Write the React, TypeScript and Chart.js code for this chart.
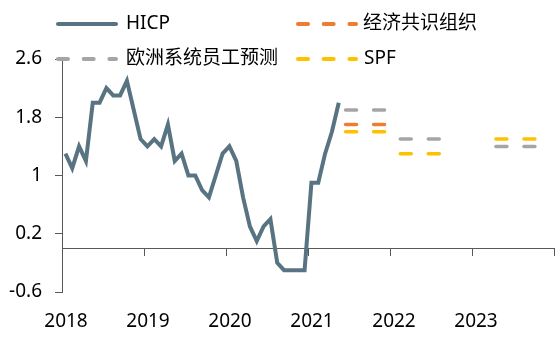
import React, { useEffect, useRef } from "react";
import { Chart, registerables } from "chart.js";

Chart.register(...registerables);

// ---- Data ----
// HICP year-on-year (%), monthly from 2018-01 (x = month index, 0 = Jan 2018)
const hicp = [
  1.3, 1.1, 1.4, 1.2, 2.0, 2.0, 2.2, 2.1, 2.1, 2.3, 1.9, 1.5, // 2018
  1.4, 1.5, 1.4, 1.7, 1.2, 1.3, 1.0, 1.0, 0.8, 0.7, 1.0, 1.3, // 2019
  1.4, 1.2, 0.7, 0.3, 0.1, 0.3, 0.4, -0.2, -0.3, -0.3, -0.3, -0.3, // 2020
  0.9, 0.9, 1.3, 1.6, 2.0, // 2021
];

// Forecast years and the month span (month index) each forecast dash covers
const forecastYears = ["2021", "2022", "2023"];
const forecastStart = [41, 49, 63];
const forecastEnd = [47, 55, 69];
const ecbForecast = [1.9, 1.5, 1.4];
const oecdForecast = [1.7, null, null];
const spfForecast = [1.6, 1.3, 1.5];

// Axis ticks
const yTicks = [-0.6, 0.2, 1, 1.8, 2.6];
const yearBoundaries = [-0.5, 11.5, 23.5, 35.5, 47.5, 59.5, 71.5];
const yearLabels = ["2018", "2019", "2020", "2021", "2022", "2023", ""];

const seriesLabels = ["HICP", "经济共识组织", "欧洲系统员工预测", "SPF"];

// ---- Styles ----
const FONT = "'Noto Sans', 'Noto Sans CJK SC', sans-serif";
const COLORS = {
  hicp: "#587482",
  oecd: "#ED7D31",
  ecb: "#A5A5A5",
  spf: "#FFC000",
  axis: "#595959",
  text: "#000000",
};

function forecastPoints(values: (number | null)[]) {
  const pts: { x: number; y: number | null }[] = [];
  values.forEach((v, i) => {
    if (v === null) return;
    pts.push({ x: forecastStart[i], y: v });
    pts.push({ x: forecastEnd[i], y: v });
    pts.push({ x: forecastEnd[i] + 0.5, y: null });
  });
  return pts;
}

const legendLayout = [
  { ds: 0, x: 56, y: 24, textX: 126, dashed: false },
  { ds: 1, x: 296, y: 24, textX: 363, dashed: true },
  { ds: 2, x: 56, y: 59, textX: 126, dashed: true },
  { ds: 3, x: 296, y: 59, textX: 364, dashed: true },
];

const legendPlugin = {
  id: "customLegend",
  afterDraw(chart: any) {
    const ctx = chart.ctx as CanvasRenderingContext2D;
    ctx.save();
    ctx.font = `19px ${FONT}`;
    ctx.textBaseline = "middle";
    ctx.textAlign = "left";
    for (const item of legendLayout) {
      const ds = chart.data.datasets[item.ds];
      ctx.strokeStyle = ds.borderColor;
      ctx.lineWidth = 4;
      ctx.lineCap = "round";
      ctx.setLineDash(item.dashed ? [10, 15.7] : []);
      ctx.beginPath();
      ctx.moveTo(item.x + 2, item.y);
      ctx.lineTo(item.x + 60, item.y);
      ctx.stroke();
      ctx.setLineDash([]);
      ctx.fillStyle = COLORS.text;
      ctx.fillText(ds.label, item.textX, item.y);
    }
    ctx.restore();
  },
};

export default function App() {
  const canvasRef = useRef<HTMLCanvasElement | null>(null);

  useEffect(() => {
    if (!canvasRef.current) return;
    const dashed = {
      borderWidth: 3.5,
      borderDash: [11, 17],
      borderCapStyle: "round" as const,
      pointRadius: 0,
      spanGaps: false,
      tension: 0,
    };
    const chart = new Chart(canvasRef.current, {
      type: "line",
      data: {
        datasets: [
          {
            label: seriesLabels[0],
            data: hicp.map((v, i) => ({ x: i, y: v })),
            borderColor: COLORS.hicp,
            backgroundColor: COLORS.hicp,
            borderWidth: 4,
            pointRadius: 0,
            tension: 0,
          },
          {
            label: seriesLabels[1],
            data: forecastPoints(oecdForecast),
            borderColor: COLORS.oecd,
            backgroundColor: COLORS.oecd,
            ...dashed,
          },
          {
            label: seriesLabels[2],
            data: forecastPoints(ecbForecast),
            borderColor: COLORS.ecb,
            backgroundColor: COLORS.ecb,
            ...dashed,
          },
          {
            label: seriesLabels[3],
            data: forecastPoints(spfForecast),
            borderColor: COLORS.spf,
            backgroundColor: COLORS.spf,
            ...dashed,
          },
        ],
      },
      options: {
        animation: false,
        responsive: true,
        maintainAspectRatio: false,
        devicePixelRatio: 1,
        layout: { padding: { top: 59, right: 2, bottom: 0, left: 0 } },
        plugins: {
          legend: { display: false },
          tooltip: { enabled: false },
        },
        scales: {
          x: {
            type: "linear",
            position: "bottom",
            min: -0.5,
            max: 71.5,
            border: { display: false },
            grid: { display: false, drawTicks: false },
            afterBuildTicks: (scale: any) => {
              scale.ticks = yearBoundaries.map((v) => ({ value: v }));
            },
            afterFit: (scale: any) => {
              scale.height = 62;
              scale.paddingLeft = 0;
              scale.paddingRight = 0;
            },
            ticks: {
              autoSkip: false,
              maxRotation: 0,
              minRotation: 0,
              padding: 18,
              labelOffset: 4,
              color: COLORS.text,
              font: { family: FONT, size: 19 },
              callback: (_v: any, i: number) => yearLabels[i],
            },
          },
          x2: {
            type: "linear",
            axis: "x",
            position: { y: 0 },
            min: -0.5,
            max: 71.5,
            border: { display: true, color: COLORS.axis, width: 1 },
            grid: {
              display: true,
              drawOnChartArea: false,
              drawTicks: true,
              tickLength: 7,
              color: COLORS.axis,
              lineWidth: 1,
            },
            afterBuildTicks: (scale: any) => {
              scale.ticks = yearBoundaries.map((v) => ({ value: v }));
            },
            afterFit: (scale: any) => {
              scale.paddingLeft = 0;
              scale.paddingRight = 0;
            },
            ticks: { display: false },
          },
          y: {
            type: "linear",
            position: "left",
            min: -0.6,
            max: 2.6,
            border: { display: true, color: COLORS.axis, width: 1 },
            grid: {
              display: true,
              drawOnChartArea: false,
              drawTicks: true,
              tickLength: 7,
              color: COLORS.axis,
              lineWidth: 1,
            },
            afterBuildTicks: (scale: any) => {
              scale.ticks = yTicks.map((v) => ({ value: v }));
            },
            afterFit: (scale: any) => {
              scale.width = 62;
            },
            ticks: {
              padding: 13,
              color: COLORS.text,
              font: { family: FONT, size: 19 },
              callback: (v: any) => String(parseFloat(Number(v).toFixed(1))),
            },
          },
        },
      } as any,
      plugins: [legendPlugin],
    });
    return () => chart.destroy();
  }, []);

  return (
    <div
      style={{
        position: "fixed",
        left: 0,
        top: 0,
        width: 556,
        height: 354,
        background: "#ffffff",
      }}
    >
      <canvas ref={canvasRef} />
    </div>
  );
}
